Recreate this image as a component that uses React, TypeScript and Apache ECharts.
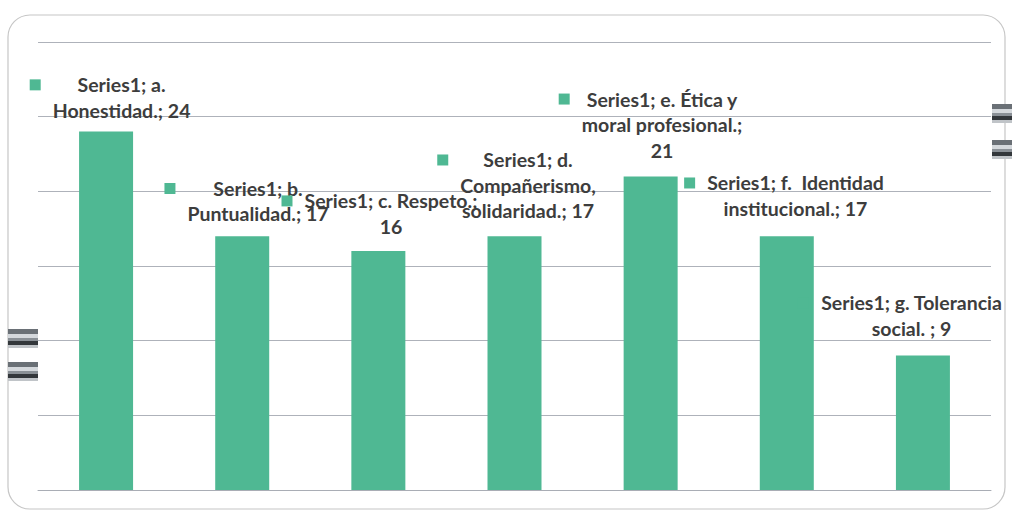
import React, { useEffect, useRef } from "react";
import * as echarts from "echarts";

const seriesName = "Series1";
const categories = [
  "a. Honestidad.",
  "b. Puntualidad.",
  "c. Respeto.",
  "d. Compañerismo, solidaridad.",
  "e. Ética y moral profesional.",
  "f.  Identidad institucional.",
  "g. Tolerancia social. ",
];
const values = [24, 17, 16, 17, 21, 17, 9];
// how each data label is wrapped ({v} = value)
const labelLines = [
  ["Series1; a.", "Honestidad.; {v}"],
  ["Series1; b.", "Puntualidad.; {v}"],
  ["Series1; c. Respeto.;", "{v}"],
  ["Series1; d.", "Compañerismo,", "solidaridad.; {v}"],
  ["Series1; e. Ética y", "moral profesional.;", "{v}"],
  ["Series1; f.  Identidad", "institucional.; {v}"],
  ["Series1; g. Tolerancia", "social. ; {v}"],
];
const labelOffsets = [
  [15.5, -8.5],
  [15.8, -9.4],
  [12.6, -11.9],
  [13.5, -12.4],
  [11.4, -13.6],
  [8.7, -14.9],
  [-11.4, -14.4],
];
const yTicks = { min: 0, max: 30, interval: 5 };

const GREEN = "#4fb893";
const TEXT = "#3d3d3d";
const FONT = "Lato";
const FS = 19.5;
const LH = 25.5;

export default function App() {
  const ref = useRef<HTMLDivElement>(null);
  useEffect(() => {
    if (!ref.current) return;
    const chart = echarts.init(ref.current, null, { renderer: "svg" });
    const data = values.map((v, i) => ({
      value: v,
      name: categories[i],
      label: { offset: labelOffsets[i] },
    }));
    const stripe = (x: number, y: number, w: number, h: number, c: string) => ({
      type: "rect",
      silent: true,
      z: 5,
      shape: { x, y, width: w, height: h },
      style: { fill: c },
    });
    const stripeGroup = (x: number, y: number, w: number) => [
      stripe(x, y, w, 5, "#6a7076"),
      stripe(x, y + 5, w, 4, "#d4d8dc"),
      stripe(x, y + 9, w, 3, "#8a9096"),
      stripe(x, y + 12, w, 4, "#33373b"),
      stripe(x, y + 16, w, 3, "#c0c4c8"),
    ];
    chart.setOption({
      animation: false,
      backgroundColor: "#ffffff",
      grid: { left: 38, right: 21, top: 42, bottom: 21, containLabel: false },
      xAxis: {
        type: "category",
        data: categories,
        axisLine: { show: true, lineStyle: { color: "#a9adb5", width: 1 } },
        axisTick: { show: false },
        axisLabel: { show: false },
      },
      yAxis: {
        type: "value",
        min: yTicks.min,
        max: yTicks.max,
        interval: yTicks.interval,
        axisLine: { show: false },
        axisTick: { show: false },
        axisLabel: { show: false },
        splitLine: { show: true, lineStyle: { color: "#aeb2ba", width: 1 } },
      },
      graphic: [
        {
          type: "rect",
          z: -10,
          silent: true,
          shape: { x: 8, y: 15, width: 997, height: 494, r: 22 },
          style: { fill: "none", stroke: "#c6c6c6", lineWidth: 1.2 },
        },
        ...stripeGroup(8, 329, 30),
        ...stripeGroup(8, 362, 30),
        ...stripeGroup(992, 104, 20),
        ...stripeGroup(992, 140, 20),
      ],
      series: [
        {
          name: seriesName,
          type: "bar",
          barWidth: 54,
          itemStyle: { color: GREEN },
          data,
          label: {
            show: true,
            position: "top",
            distance: 0,
            lineHeight: LH,
            formatter: (p: any) => {
              const lines = labelLines[p.dataIndex].map((l) =>
                l.replace("{v}", String(p.value))
              );
              return lines
                .map((l, j) =>
                  j === 0
                    ? `{k| }{g| }{t|${l}}{r| }`
                    : `{s| }{t|${l}}{r| }`
                )
                .join("\n");
            },
            rich: {
              t: {
                fontFamily: FONT,
                fontSize: FS,
                fontWeight: "bold",
                color: TEXT,
                lineHeight: LH,
                align: "center",
              },
              k: {
                width: 11,
                height: 11,
                backgroundColor: GREEN,
                align: "left",
                lineHeight: LH,
              },
              g: { width: 12, align: "left", lineHeight: LH },
              s: { width: 23, align: "left", lineHeight: LH },
              r: { width: 23, align: "right", lineHeight: LH },
            },
          },
        },
      ],
    });
    return () => chart.dispose();
  }, []);
  return (
    <div
      ref={ref}
      style={{ position: "fixed", left: 0, top: 0, width: 1012, height: 511 }}
    />
  );
}
